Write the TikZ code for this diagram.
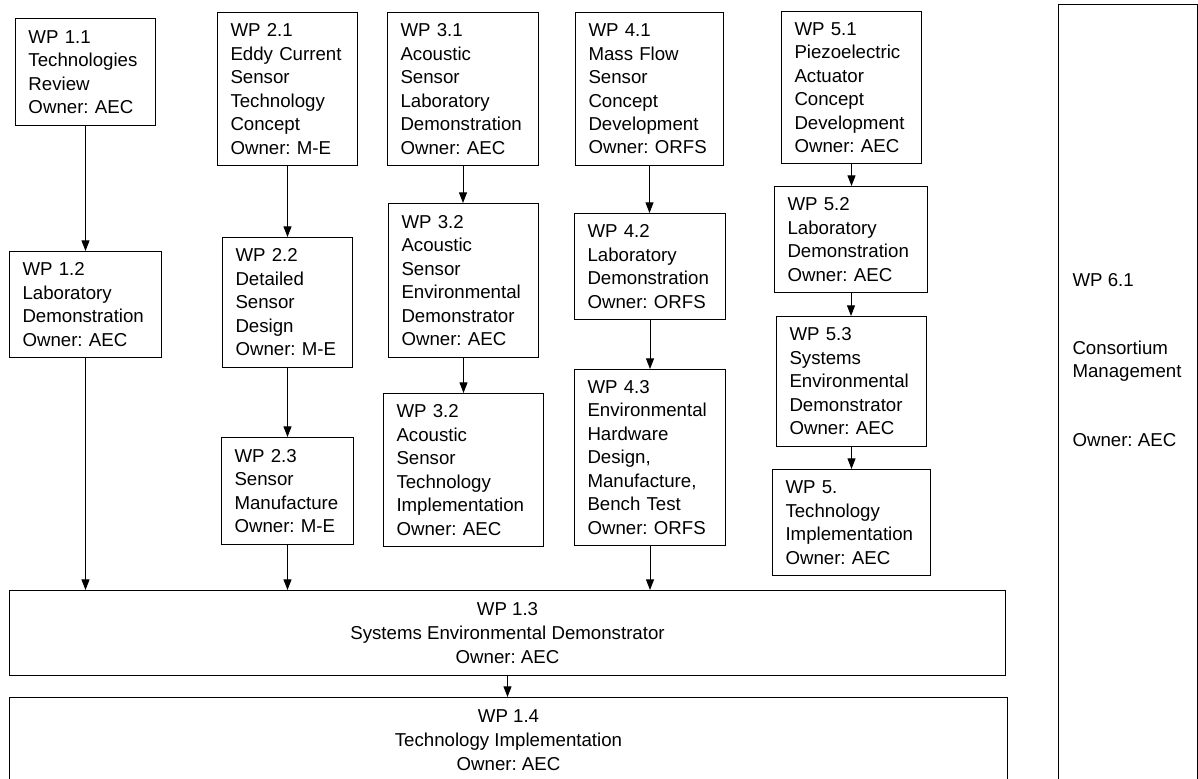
\documentclass[tikz,border=0pt]{standalone}
\usepackage{fontspec}
\setmainfont{Liberation Sans}
\usetikzlibrary{arrows.meta}
\frenchspacing

\begin{document}
\begin{tikzpicture}[x=0.75pt, y=-0.75pt, line width=0.75pt, >={Triangle[width=6pt,length=8pt]},
    wp/.style 2 args={draw, anchor=north west, minimum width=#1*0.75pt, minimum height=#2*0.75pt,
        text width=(#1-26)*0.75pt, inner xsep=9.75pt, inner ysep=0pt, align=left,
        font=\fontsize{14pt}{17.6pt}\selectfont},
    wpbar/.style 2 args={draw, anchor=north west, minimum width=#1*0.75pt, minimum height=#2*0.75pt,
        inner sep=0pt, align=center, font=\fontsize{14pt}{18pt}\selectfont}]
    \useasboundingbox (0,0) rectangle (1198,778);
    \clip (0,0) rectangle (1198,778);

    \node[wp={140}{107}] at (15, 18)  (wp11) {WP 1.1\\Technologies\\Review\\Owner: AEC};
    \node[wp={152}{106}] at (9, 251)  (wp12) {WP 1.2\\Laboratory\\Demonstration\\Owner: AEC};

    \node[wp={140}{153}] at (217, 12) (wp21) {WP 2.1\\Eddy Current\\Sensor\\Technology\\Concept\\Owner: M-E};
    \node[wp={130}{130}] at (222, 237) (wp22) {WP 2.2\\Detailed\\Sensor\\Design\\Owner: M-E};
    \node[wp={132}{107}] at (221, 437) (wp23) {WP 2.3\\Sensor\\Manufacture\\Owner: M-E};

    \node[wp={151}{153}] at (387, 12) (wp31) {WP 3.1\\Acoustic\\Sensor\\Laboratory\\Demonstration\\Owner: AEC};
    \node[wp={150}{154}] at (388, 203) (wp32) {WP 3.2\\Acoustic\\Sensor\\Environmental\\Demonstrator\\Owner: AEC};
    \node[wp={160}{153}] at (383, 393) (wp33) {WP 3.2\\Acoustic\\Sensor\\Technology\\Implementation\\Owner: AEC};

    \node[wp={148}{153}] at (575, 12) (wp41) {WP 4.1\\Mass Flow\\Sensor\\Concept\\Development\\Owner: ORFS};
    \node[wp={151}{106}] at (574, 213) (wp42) {WP 4.2\\Laboratory\\Demonstration\\Owner: ORFS};
    \node[wp={151}{176}] at (574, 369) (wp43)
        {WP 4.3\\Environmental\\Hardware\\Design,\\Manufacture,\\Bench Test\\Owner: ORFS};

    \node[wp={140}{152}] at (781, 11) (wp51) {WP 5.1\\Piezoelectric\\Actuator\\Concept\\Development\\Owner: AEC};
    \node[wp={153}{106}] at (774, 186) (wp52) {WP 5.2\\Laboratory\\Demonstration\\Owner: AEC};
    \node[wp={150}{130}] at (776, 316) (wp53) {WP 5.3\\Systems\\Environmental\\Demonstrator\\Owner: AEC};
    \node[wp={158}{106}] at (772, 469) (wp54) {WP 5.\\Technology\\Implementation\\Owner: AEC};

    \node[wpbar={996}{85}] at (9, 590) (wp13) {WP 1.3\\Systems Environmental Demonstrator\\Owner: AEC};
    \node[wpbar={998}{86}] at (9, 697) (wp14) {WP 1.4\\Technology Implementation\\Owner: AEC};

    \node[draw, anchor=north west, minimum width=139*0.75pt, minimum height=800*0.75pt] at (1058, 4) (wp61) {};
    \node[anchor=north west, align=left, inner sep=0pt, font=\fontsize{14pt}{17.6pt}\selectfont] at (1072, 273) (wp61txt)
        {WP 6.1\\[33pt]Consortium\\Management\\[34pt]Owner: AEC};

    \draw[->] (wp11.south) -- (wp11.south |- wp12.north);
    \draw[->] (wp12.south) -- (wp12.south |- wp13.north);
    \draw[->] (wp21.south) -- (wp21.south |- wp22.north);
    \draw[->] (wp22.south) -- (wp22.south |- wp23.north);
    \draw[->] (wp23.south) -- (wp23.south |- wp13.north);
    \draw[->] (wp31.south) -- (wp31.south |- wp32.north);
    \draw[->] (wp32.south) -- (wp32.south |- wp33.north);
    \draw[->] (wp41.south) -- (wp41.south |- wp42.north);
    \draw[->] (wp42.south) -- (wp42.south |- wp43.north);
    \draw[->] (wp43.south) -- (wp43.south |- wp13.north);
    \draw[->] (wp51.south) -- (wp51.south |- wp52.north);
    \draw[->] (wp52.south) -- (wp52.south |- wp53.north);
    \draw[->] (wp53.south) -- (wp53.south |- wp54.north);
    \draw[->] (wp13.south) -- (wp13.south |- wp14.north);
\end{tikzpicture}
\end{document}
